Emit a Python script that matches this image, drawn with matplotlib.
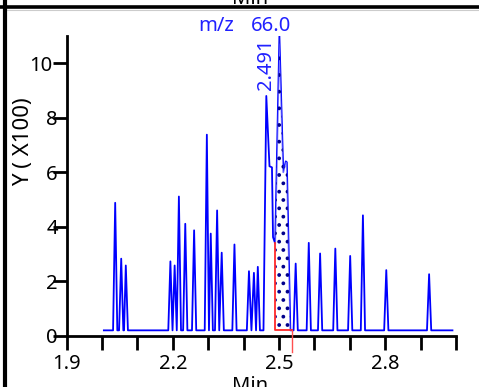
import numpy as np
import matplotlib
matplotlib.use("Agg")
import matplotlib.pyplot as plt
from matplotlib.lines import Line2D
from matplotlib.transforms import ScaledTranslation

plt.rcParams['font.family'] = ['Noto Sans', 'DejaVu Sans']
plt.rcParams['hatch.linewidth'] = 1.5
plt.rcParams['hatch.color'] = '#00008b'

# chromatogram trace, m/z 66.0 (time in min, intensity x100)
times = [2.005, 2.031, 2.037, 2.043, 2.048, 2.054, 2.060, 2.062, 2.067, 2.073,
         2.187, 2.193, 2.199, 2.205, 2.211, 2.217, 2.223, 2.229, 2.235, 2.241,
         2.254, 2.260, 2.266, 2.290, 2.296, 2.302, 2.307, 2.313, 2.319, 2.325,
         2.331, 2.338, 2.344, 2.368, 2.374, 2.380, 2.409, 2.415, 2.422, 2.429,
         2.435, 2.440, 2.446, 2.456, 2.464, 2.473, 2.480, 2.483, 2.489, 2.501,
         2.512, 2.519, 2.522, 2.532, 2.541, 2.547, 2.553, 2.578, 2.584, 2.590,
         2.610, 2.616, 2.622, 2.653, 2.659, 2.665, 2.695, 2.701, 2.707, 2.731,
         2.737, 2.743, 2.797, 2.803, 2.809, 2.918, 2.924, 2.930, 2.990]
intens = [0.2, 0.2, 4.88, 0.2, 0.2, 2.83, 0.2, 0.2, 2.58, 0.2,
          0.2, 2.73, 0.2, 2.58, 0.2, 5.11, 0.2, 0.2, 4.11, 0.2,
          0.2, 3.87, 0.2, 0.2, 7.38, 0.2, 3.75, 0.2, 0.2, 4.60,
          0.2, 3.05, 0.2, 0.2, 3.35, 0.2, 0.2, 2.37, 0.2, 2.31,
          0.2, 2.53, 0.2, 0.2, 8.8, 6.22, 6.18, 3.62, 3.39, 11.0,
          6.0, 6.4, 6.37, 0.2, 0.2, 2.65, 0.2, 0.2, 3.41, 0.2,
          0.2, 3.02, 0.2, 0.2, 3.20, 0.2, 0.2, 2.93, 0.2, 0.2,
          4.42, 0.2, 0.2, 2.41, 0.2, 0.2, 2.26, 0.2, 0.2]

int_start = 2.489
int_end = 2.536
int_base = 0.2
peak_label = "2.491"
peak_pos = (2.464, 8.8)
mz_text = "66.0"

xticks = [1.9, 2.0, 2.1, 2.2, 2.3, 2.4, 2.5, 2.6, 2.7, 2.8, 2.9, 3.0]
xlabels = ["1.9", "", "", "2.2", "", "", "2.5", "", "", "2.8", "", ""]
yticks = [0, 2, 4, 6, 8, 10]

W, H = 479, 387
def px(x, y):
    return x / W, 1 - y / H

fig = plt.figure(figsize=(W / 100, H / 100), dpi=100)
l, b = px(66.7, 335.8)
r, t = px(456, 36)
ax = fig.add_axes([l, b, r - l, t - b])

tt = np.array(times)
ii = np.array(intens)
ax.plot(tt, ii, color='#0000ff', lw=1.3, zorder=2)

m = (tt >= int_start) & (tt <= int_end)
ax.fill_between(tt[m], int_base, ii[m], facecolor=(1, 1, 1, 0.45),
                hatch='..', edgecolor='#00008b', linewidth=0, zorder=3)

# integration baseline
ax.plot([int_start, int_start, int_end], [ii[m][0], int_base, int_base],
        color='#ff2a2a', lw=1.3, zorder=4)
ax.plot([int_end, int_end], [int_base, -0.58], color='#ff5050', lw=1.0,
        zorder=4, clip_on=False)

ax.set_xlim(1.9, 3.0)
ax.set_ylim(0, 11.0)
ax.set_xticks(xticks)
ax.set_xticklabels(xlabels)
ax.set_yticks(yticks)
ax.set_yticklabels([str(v) for v in yticks])

for s in ['top', 'right']:
    ax.spines[s].set_visible(False)
for s in ['left', 'bottom']:
    ax.spines[s].set_linewidth(2)
ax.tick_params(axis='both', direction='out', length=10, width=2,
               labelsize=14.5, colors='black')
ax.tick_params(axis='y', pad=-3.6)
ax.tick_params(axis='x', pad=3)
# two-digit label sits a bit further left
ax.get_yticklabels()[-1].set_transform(
    ax.get_yticklabels()[-1].get_transform()
    + ScaledTranslation(-5 / 100, 0, fig.dpi_scale_trans))

ax.annotate(peak_label, peak_pos, xytext=(0, 4), textcoords='offset points',
            rotation=90, ha='center', va='bottom', color='#2020ff',
            fontsize=14.5)

fig.text(*px(198, 31), "m/z", color='#2020ff', fontsize=14.5, va='baseline')
fig.text(*px(251, 31), mz_text, color='#2020ff', fontsize=14.5, va='baseline')

fig.text(*px(24, 142), "Y ( X100)", rotation=90, ha='center', va='center',
         fontsize=16)
fig.text(*px(250, 391), "Min", ha='center', va='baseline', fontsize=14.5)
fig.text(*px(250, 4), "Min", ha='center', va='baseline', fontsize=14.5)

# panel frame
fig.add_artist(Line2D([0, 1], [1 - 6.7 / H] * 2, color='black', lw=2.6,
                      transform=fig.transFigure))
fig.add_artist(Line2D([7 / W, 1], [1 - 9.5 / H] * 2, color='#cccccc', lw=0.8,
                      transform=fig.transFigure))
fig.add_artist(Line2D([5.3 / W] * 2, [0, 1], color='black', lw=3,
                      transform=fig.transFigure))

fig.savefig("out.png", dpi=100)
